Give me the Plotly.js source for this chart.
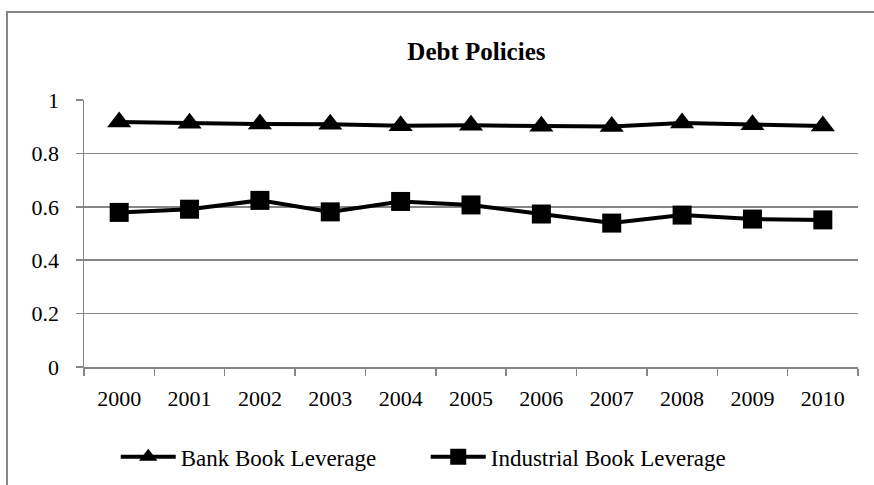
<!DOCTYPE html>
<html>
<head>
<meta charset="utf-8">
<script src="https://cdn.plot.ly/plotly-3.0.1.min.js"></script>
<style>html,body{margin:0;padding:0;background:#fff;}#chart{width:874px;height:485px;}</style>
</head>
<body>
<div id="chart"></div>
<script>
const years = ["2000","2001","2002","2003","2004","2005","2006","2007","2008","2009","2010"];
const bankBookLeverage = [0.918, 0.913, 0.910, 0.909, 0.904, 0.905, 0.902, 0.901, 0.914, 0.907, 0.903];
const industrialBookLeverage = [0.579, 0.591, 0.624, 0.581, 0.620, 0.607, 0.573, 0.539, 0.569, 0.554, 0.551];
const yTicks = [0, 0.2, 0.4, 0.6, 0.8, 1];
const yTickText = ["0", "0.2", "0.4", "0.6", "0.8", "1"];

const font = {family: "Liberation Serif, Times New Roman, serif", color: "#000", size: 22};

const traces = [
  {x: years, y: bankBookLeverage, name: "Bank Book Leverage", type: "scatter", mode: "lines+markers",
   line: {color: "#000", width: 4}, marker: {symbol: "triangle-up", size: 21, color: "#000"}},
  {x: years, y: industrialBookLeverage, name: "Industrial Book Leverage", type: "scatter", mode: "lines+markers",
   line: {color: "#000", width: 4}, marker: {symbol: "square", size: 19, color: "#000"}}
];

const layout = {
  width: 874, height: 485,
  margin: {l: 84, r: 16, t: 100, b: 118},
  paper_bgcolor: "#fff", plot_bgcolor: "#fff",
  font: font,
  title: {text: "<b>Debt Policies</b>", font: {family: font.family, size: 25, color: "#000"},
          x: 0.507, xref: "paper", xanchor: "center", y: 0.895, yref: "container", yanchor: "middle"},
  xaxis: {type: "category", showgrid: false, showline: true, linecolor: "#868686", linewidth: 1.5,
          ticks: "outside", tickson: "boundaries", ticklen: 7, tickcolor: "#868686", tickwidth: 1.5,
          tickfont: font, range: [-0.5, 10.5], ticklabelstandoff: 11, automargin: false, fixedrange: true},
  yaxis: {range: [0, 1], tickvals: yTicks, ticktext: yTickText, showgrid: true, gridcolor: "#868686", gridwidth: 1.5,
          showline: true, linecolor: "#868686", linewidth: 1.5, ticks: "outside", ticklen: 7,
          tickcolor: "#868686", tickwidth: 1.5, tickfont: font, ticklabelstandoff: 12, automargin: false, zeroline: false},
  showlegend: true,
  legend: {orientation: "h", x: 0.041, xref: "paper", xanchor: "left", y: 0.058, yref: "container", yanchor: "middle",
           font: {family: font.family, color: "#000", size: 23}, itemwidth: 55, entrywidth: 240,
           bgcolor: "rgba(0,0,0,0)", tracegroupgap: 0},
  shapes: [{type: "rect", xref: "paper", yref: "paper", x0: -0.0995, x1: 1.1, y0: -0.6, y1: 1.33,
            line: {color: "#868686", width: 2}, fillcolor: "rgba(0,0,0,0)", layer: "below"}]
};

Plotly.newPlot("chart", traces, layout, {displayModeBar: false, staticPlot: true});
</script>
</body>
</html>
